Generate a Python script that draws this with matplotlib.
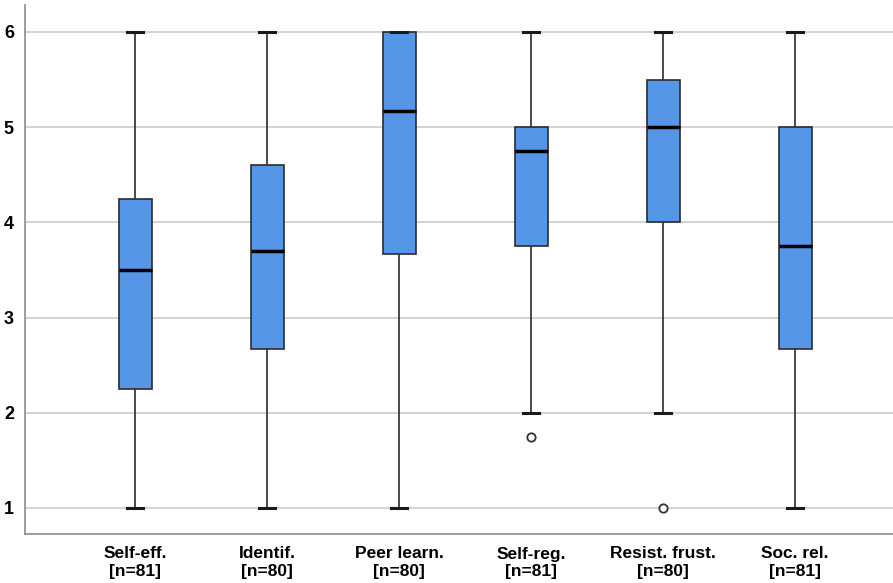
import matplotlib
matplotlib.use("Agg")
import matplotlib.pyplot as plt

categories = ["Self-eff.\n[n=81]", "Identif.\n[n=80]", "Peer learn.\n[n=80]",
              "Self-reg.\n[n=81]", "Resist. frust.\n[n=80]", "Soc. rel.\n[n=81]"]
whislo = [1, 1, 1, 2, 2, 1]
q1 = [2.25, 2.67, 3.67, 3.75, 4.0, 2.67]
med = [3.5, 3.7, 5.17, 4.75, 5.0, 3.75]
q3 = [4.25, 4.6, 6.0, 5.0, 5.5, 5.0]
whishi = [6, 6, 6, 6, 6, 6]
fliers = [[], [], [], [1.75], [1.0], []]

plt.rcParams['font.family'] = ['Liberation Sans', 'DejaVu Sans']

fig = plt.figure(figsize=(8.93, 5.83), dpi=100)
ax = fig.add_axes([25/893, 1-534/583, 1-25/893, (534-5)/583])

stats = []
for i in range(len(categories)):
    stats.append(dict(whislo=whislo[i], q1=q1[i], med=med[i], q3=q3[i],
                      whishi=whishi[i], fliers=fliers[i]))

pos = list(range(1, len(categories)+1))
ax.bxp(stats, positions=pos, widths=0.25, patch_artist=True, showfliers=True,
       boxprops=dict(facecolor='#5596E6', edgecolor='#2b2b2b', linewidth=1.2),
       medianprops=dict(color='black', linewidth=2.5),
       whiskerprops=dict(color='#3a3a3a', linewidth=1.3),
       capprops=dict(color='#1a1a1a', linewidth=2.2),
       capwidths=0.12,
       flierprops=dict(marker='o', markerfacecolor='white', markeredgecolor='#333333',
                       markersize=6, markeredgewidth=1.3),
       zorder=3)

ax.set_xlim(1 - 110/132, 6 + 98/132)
ax.set_ylim(1 - 26/95.2, 6 + 27/95.2)
ax.set_yticks([1, 2, 3, 4, 5, 6])
ax.set_yticklabels(['1', '2', '3', '4', '5', '6'], fontsize=13, fontweight='bold')
ax.set_xticks(pos)
ax.set_xticklabels(categories, fontsize=12.5, fontweight='bold', linespacing=1.2)
ax.tick_params(axis='x', length=0, pad=9)
ax.tick_params(axis='y', length=0, pad=8)
ax.grid(axis='y', color='#cccccc', linewidth=1.2, zorder=0)
ax.set_axisbelow(True)
for s in ['top', 'right']:
    ax.spines[s].set_visible(False)
ax.spines['left'].set_color('#8c8c8c')
ax.spines['bottom'].set_color('#8c8c8c')
ax.spines['left'].set_linewidth(1.2)
ax.spines['bottom'].set_linewidth(1.2)

fig.savefig("out.png", dpi=100)
